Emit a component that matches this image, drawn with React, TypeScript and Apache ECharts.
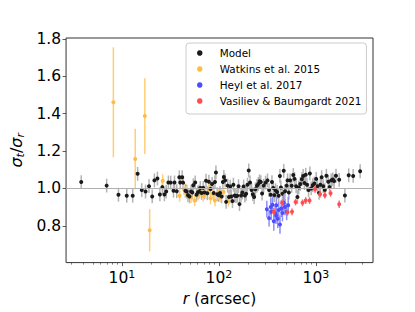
import React, { useEffect, useRef } from 'react';
import * as echarts from 'echarts';

// ---------- data ----------
const modelR = [3.8, 6.95, 9.2, 11.2, 12.9, 14.5, 16.0, 17.5, 19.0, 20.5, 21.6, 23.2, 24.6, 26.1, 27.4, 28.6, 30.1, 31.8, 34.0, 34.8,
  36.7, 39.0, 39.9, 41.8, 42.7, 45.1, 46.5, 47.9, 49.7, 51.6, 53.2, 54.4, 56.9, 58.7, 60.5, 62.3, 64.2, 66.2, 68.8, 70.9,
  73.6, 75.9, 78.8, 81.8, 85.0, 88.3, 91.0, 93.1, 96.0, 99.6, 102.6, 106.6, 109.9, 112.4, 115.9, 118.6, 123.1, 126.9, 130.8, 133.7,
  137.9, 141.0, 145.4, 149.9, 154.5, 159.3, 162.9, 169.1, 174.3, 179.7, 185.2, 190.9, 196.8, 202.9, 209.1, 217.1, 223.8, 230.6, 237.8, 246.7,
  254.4, 262.2, 270.3, 278.6, 289.1, 302.7, 316.9, 328.8, 341.7, 352.3, 363.4, 371.9, 383.2, 397.6, 412.6, 425.5, 435.4, 452.0, 465.9, 480.2,
  499.0, 510.5, 526.1, 542.2, 562.6, 584.4, 602.2, 624.9, 645.0, 665.0, 690.2, 716.5, 739.2, 761.9, 785.3, 809.4, 839.5, 866.6, 893.2, 926.3,
  963.1, 1007, 1038, 1078, 1112, 1146, 1190, 1236, 1283, 1343, 1384, 1438, 1493, 1539, 1611, 1738, 1991, 2179, 2423, 2860];
const modelV = [1.034, 1.015, 0.966, 0.961, 0.961, 1.078, 0.991, 0.983, 1.012, 0.957, 1.043, 1.053, 0.968, 1.007, 0.968, 0.983, 1.032, 1.031, 0.988, 1.032,
  0.985, 1.060, 1.032, 1.060, 1.031, 0.988, 0.983, 0.964, 0.957, 0.983, 0.978, 1.017, 1.032, 0.966, 0.978, 0.983, 1.002, 0.976, 1.003, 0.978,
  1.041, 0.974, 1.036, 0.997, 1.024, 0.976, 1.034, 1.085, 0.969, 0.964, 0.976, 0.957, 1.034, 1.061, 1.043, 0.928, 1.015, 0.954, 1.010, 0.957,
  0.932, 1.020, 0.962, 0.959, 0.961, 1.012, 0.916, 0.962, 0.978, 1.010, 0.962, 0.971, 1.020, 1.096, 1.032, 0.991, 0.969, 0.954, 0.995, 1.014,
  1.024, 1.038, 1.034, 0.973, 1.015, 1.031, 1.043, 0.991, 0.966, 1.034, 1.003, 0.964, 0.990, 0.981, 0.961, 1.067, 1.005, 0.971, 1.094, 0.985,
  1.015, 1.043, 0.978, 1.043, 1.014, 1.072, 1.051, 1.012, 0.954, 1.005, 1.024, 1.049, 1.067, 1.029, 1.073, 1.020, 0.991, 1.080, 1.000, 1.017,
  1.026, 1.051, 1.012, 0.976, 1.020, 1.060, 1.012, 0.991, 1.068, 1.036, 1.007, 1.043, 1.048, 1.039, 1.068, 1.046, 0.962, 1.070, 1.067, 1.092];
const MODEL_ERR = 0.037;

const watkinsR = [8.15, 13.7, 17.2, 19.3, 26.3, 39.3, 43.6, 46.0, 51.6, 56.1, 61.0, 63.8, 68.8, 72.5, 78.2, 81.8, 86.9, 91.0, 98.2, 104.2, 111.6, 125.0];
const watkinsV = [1.461, 1.157, 1.387, 0.776, 1.041, 0.961, 0.995, 0.981, 0.952, 0.935, 0.969, 0.981, 0.961, 0.976, 0.995, 0.947, 0.969, 0.935, 0.971, 0.957, 0.981, 0.935];
const watkinsE = [0.294, 0.162, 0.203, 0.113, 0.035, 0.032, 0.03, 0.03, 0.03, 0.03, 0.03, 0.03, 0.032, 0.03, 0.03, 0.032, 0.03, 0.03, 0.03, 0.03, 0.03, 0.032];

const heylR = [312, 329, 342, 347, 357, 368, 380, 388, 391, 404, 413, 426, 439, 452, 466, 480, 499, 518];
const heylV = [0.889, 0.841, 0.901, 0.875, 0.913, 0.824, 0.867, 0.855, 0.910, 0.838, 0.884, 0.807, 0.892, 0.869, 0.923, 0.901, 0.875, 0.910];
const heylE = [0.045, 0.045, 0.045, 0.045, 0.045, 0.05, 0.045, 0.045, 0.045, 0.05, 0.045, 0.05, 0.045, 0.045, 0.045, 0.045, 0.045, 0.045];

const vasR = [368, 449, 510, 567, 617, 728, 785, 860, 980, 1104, 1237, 1416, 1738];
const vasV = [0.875, 0.923, 0.872, 0.875, 0.927, 0.923, 0.935, 0.935, 0.995, 0.969, 0.964, 0.974, 0.915];
const vasE = [0.02, 0.018, 0.018, 0.018, 0.018, 0.018, 0.018, 0.018, 0.018, 0.018, 0.018, 0.018, 0.02];

const xMajor = [10, 100, 1000];
const xMinor = [3, 4, 5, 6, 7, 8, 9, 20, 30, 40, 50, 60, 70, 80, 90, 200, 300, 400, 500, 600, 700, 800, 900, 2000, 3000];
const yTicks = [0.8, 1.0, 1.2, 1.4, 1.6, 1.8];

const seriesNames = ['Model', 'Watkins et al. 2015', 'Heyl et al. 2017', 'Vasiliev & Baumgardt 2021'];

const X_MIN = 2.65;
const X_MAX = 3880;
const Y_MIN = 0.603;
const Y_MAX = 1.805;

const FONT = 'DejaVu Sans';
const TICK_FS = 15.5;

function errRender(color: string, width: number) {
  return (params: any, api: any) => {
    const x = api.value(0);
    const p1 = api.coord([x, api.value(1)]);
    const p2 = api.coord([x, api.value(2)]);
    return {
      type: 'line',
      shape: { x1: p1[0], y1: p1[1], x2: p2[0], y2: p2[1] },
      style: { stroke: color, lineWidth: width },
    };
  };
}

function errData(r: number[], v: number[], e: number[] | number) {
  return r.map((x, i) => {
    const err = Array.isArray(e) ? e[i] : e;
    return [x, v[i] - err, v[i] + err];
  });
}

function ptData(r: number[], v: number[]) {
  return r.map((x, i) => [x, v[i]]);
}

export default function App() {
  const ref = useRef<HTMLDivElement>(null);
  useEffect(() => {
    if (!ref.current) return;
    const chart = echarts.init(ref.current, null, { renderer: 'svg' });
    const option: any = {
      animation: false,
      grid: { left: 51, right: 42, top: 38, bottom: 39, show: true, borderColor: '#333', borderWidth: 1, backgroundColor: 'transparent' },
      xAxis: [
        {
          type: 'log', logBase: 10, min: X_MIN, max: X_MAX, position: 'bottom',
          axisLine: { show: false }, splitLine: { show: false },
          axisTick: { show: true, length: 3.5, lineStyle: { color: '#333', width: 0.8 }, customValues: xMajor },
          axisLabel: {
            customValues: xMajor, margin: 6,
            formatter: (v: number) => `{b|10}{s|${Math.round(Math.log10(v))}}`,
            rich: {
              b: { fontFamily: FONT, fontSize: TICK_FS, color: '#000' },
              s: { fontFamily: FONT, fontSize: 11, color: '#000', padding: [0, 0, 8, 0] },
            },
          },
          name: '{i|r}{n| (arcsec)}', nameLocation: 'middle', nameGap: 22,
          nameTextStyle: {
            rich: {
              i: { fontFamily: FONT, fontSize: TICK_FS, fontStyle: 'italic', color: '#000' },
              n: { fontFamily: FONT, fontSize: TICK_FS, color: '#000' },
            },
          },
        },
        {
          type: 'log', logBase: 10, min: X_MIN, max: X_MAX, position: 'bottom',
          axisLine: { show: false }, splitLine: { show: false }, axisLabel: { show: false },
          axisTick: { show: true, length: 2, lineStyle: { color: '#333', width: 0.6 }, customValues: xMinor },
        },
      ],
      yAxis: {
        type: 'value', min: Y_MIN, max: Y_MAX,
        axisLine: { show: false }, splitLine: { show: false },
        axisTick: { show: true, length: 3.5, lineStyle: { color: '#333', width: 0.8 }, customValues: yTicks },
        axisLabel: { customValues: yTicks, formatter: (v: number) => v.toFixed(1), fontFamily: FONT, fontSize: TICK_FS, color: '#000', margin: 5 },
        name: '{i|σ}{s|t}{n|/}{i|σ}{s|r}', nameLocation: 'middle', nameRotate: 90, nameGap: 34,
        nameTextStyle: {
          rich: {
            i: { fontFamily: FONT, fontSize: 16, fontStyle: 'italic', color: '#000' },
            n: { fontFamily: FONT, fontSize: 16, color: '#000' },
            s: { fontFamily: FONT, fontSize: 11, fontStyle: 'italic', color: '#000', padding: [8, 0, 0, 0] },
          },
        },
      },
      legend: {
        data: seriesNames, orient: 'vertical', left: 186, top: 43,
        padding: [4, 5, 7, 11], itemWidth: 30, itemHeight: 5.5, itemGap: 4,
        icon: 'circle', selectedMode: false,
        itemStyle: { borderWidth: 0 },
        backgroundColor: 'rgba(255,255,255,0.8)', borderColor: '#cccccc', borderWidth: 1, borderRadius: 3,
        textStyle: { fontFamily: FONT, fontSize: 10.4, lineHeight: 12, color: '#000' },
      },
      series: [
        {
          type: 'scatter', name: 'hline', data: [], silent: true, z: 0,
          markLine: {
            silent: true, symbol: 'none', label: { show: false }, animation: false,
            lineStyle: { color: '#b0b0b0', width: 1.2, type: 'solid' },
            data: [{ yAxis: 1.0 }],
          },
        },
        { type: 'custom', name: 'modelErr', renderItem: errRender('#b3b3b3', 1.5), data: errData(modelR, modelV, MODEL_ERR), encode: { x: 0, y: [1, 2] }, z: 1, silent: true },
        { type: 'custom', name: 'watkinsErr', renderItem: errRender('#ffcf75', 1.5), data: errData(watkinsR, watkinsV, watkinsE), encode: { x: 0, y: [1, 2] }, z: 1, silent: true },
        { type: 'scatter', name: seriesNames[1], data: ptData(watkinsR, watkinsV), symbolSize: 4, itemStyle: { color: '#ffbb44', opacity: 1 }, z: 2 },
        { type: 'scatter', name: seriesNames[0], data: ptData(modelR, modelV), symbolSize: 4, itemStyle: { color: '#1a1a1a', opacity: 1 }, z: 3 },
        { type: 'custom', name: 'heylErr', renderItem: errRender('#8c8cff', 1.5), data: errData(heylR, heylV, heylE), encode: { x: 0, y: [1, 2] }, z: 4, silent: true },
        { type: 'scatter', name: seriesNames[2], data: ptData(heylR, heylV), symbolSize: 4, itemStyle: { color: '#4d4dff', opacity: 1 }, z: 5 },
        { type: 'custom', name: 'vasErr', renderItem: errRender('#ff6b6b', 1.5), data: errData(vasR, vasV, vasE), encode: { x: 0, y: [1, 2] }, z: 6, silent: true },
        { type: 'scatter', name: seriesNames[3], data: ptData(vasR, vasV), symbolSize: 4, itemStyle: { color: '#ff4d4d', opacity: 1 }, z: 7 },
      ],
    };
    chart.setOption(option);
    return () => chart.dispose();
  }, []);
  return <div ref={ref} style={{ width: 415, height: 312, position: 'absolute', left: 0, top: 0 }} />;
}
